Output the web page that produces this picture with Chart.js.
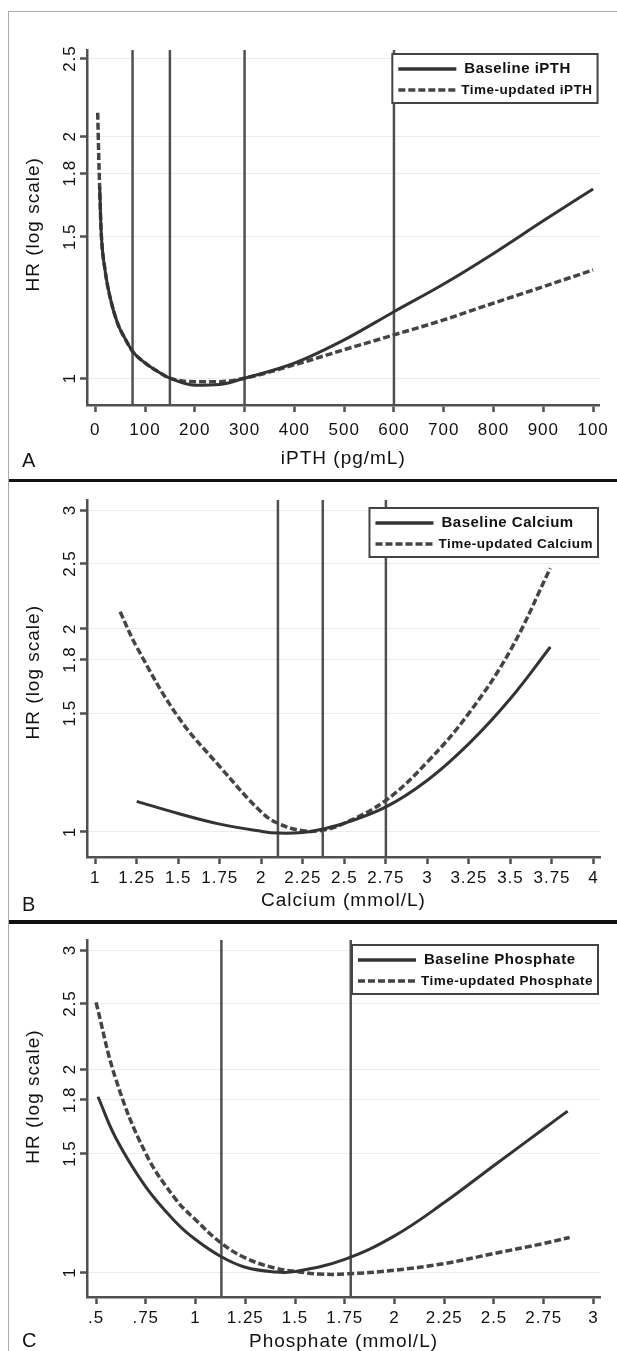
<!DOCTYPE html>
<html>
<head>
<meta charset="utf-8">
<script src="https://cdn.jsdelivr.net/npm/chart.js@4.4.1/dist/chart.umd.min.js"></script>
<style>
body{margin:0;background:#fff;width:617px;height:1351px;overflow:hidden;position:relative;font-family:"Liberation Sans",Arial,sans-serif;}
.frame{position:absolute;left:8px;top:11px;right:-2px;bottom:-2px;border-left:1px solid #aaa;border-top:1px solid #aaa;}
canvas{position:absolute;left:0;}
.sep{position:absolute;left:9px;right:0;height:3px;background:#111;}
.tag{position:absolute;left:22px;font-size:20px;line-height:20px;color:#151515;}
</style>
</head>
<body>
<div class="frame"></div>
<canvas id="chartA" width="617" height="480" style="top:0px"></canvas>
<canvas id="chartB" width="617" height="437" style="top:483px"></canvas>
<canvas id="chartC" width="617" height="440" style="top:924px"></canvas>
<div class="sep" style="top:479px"></div>
<div class="sep" style="top:920px;height:3.5px"></div>
<div class="tag" style="top:450px">A</div>
<div class="tag" style="top:894px">B</div>
<div class="tag" style="top:1330px">C</div>
<script>
// A - iPTH
const iPTHTicks = [0, 100, 200, 300, 400, 500, 600, 700, 800, 900, 1000];
const iPTHTickLabels = ['0', '100', '200', '300', '400', '500', '600', '700', '800', '900', '100'];
const iPTHRefLines = [75, 150, 300, 600];
const iPTHBaseX = [9, 12, 20, 30, 45, 60, 75, 100, 125, 150, 200, 250, 300, 400, 500, 600, 700, 800, 900, 1000];
const iPTHBaseHR = [1.73, 1.52, 1.36, 1.26, 1.17, 1.12, 1.08, 1.045, 1.02, 1.0, 0.98, 0.982, 1.0, 1.044, 1.116, 1.21, 1.31, 1.43, 1.57, 1.72];
const iPTHTimeX = [5, 7, 9, 12, 20, 30, 45, 60, 75, 100, 125, 150, 200, 250, 300, 400, 500, 600, 700, 800, 900, 1000];
const iPTHTimeHR = [2.14, 1.9, 1.72, 1.52, 1.36, 1.26, 1.17, 1.12, 1.08, 1.045, 1.02, 1.0, 0.99, 0.99, 1.0, 1.039, 1.085, 1.132, 1.182, 1.24, 1.30, 1.364];
const hrTicksA = [1, 1.5, 1.8, 2, 2.5];
const hrLabelsA = ['1', '1.5', '1.8', '2', '2.5'];

// B - Calcium
const caTicks = [1, 1.25, 1.5, 1.75, 2, 2.25, 2.5, 2.75, 3, 3.25, 3.5, 3.75, 4];
const caTickLabels = ['1', '1.25', '1.5', '1.75', '2', '2.25', '2.5', '2.75', '3', '3.25', '3.5', '3.75', '4'];
const caRefLines = [2.1, 2.37, 2.75];
const caBaseX = [1.25, 1.5, 1.75, 2.0, 2.1, 2.25, 2.37, 2.5, 2.75, 3.0, 3.25, 3.5, 3.74];
const caBaseHR = [1.11, 1.065, 1.027, 1.002, 0.996, 0.998, 1.01, 1.03, 1.089, 1.193, 1.352, 1.577, 1.88];
const caTimeX = [1.15, 1.25, 1.5, 1.75, 2.0, 2.1, 2.25, 2.37, 2.5, 2.75, 3.0, 3.25, 3.5, 3.74];
const caTimeHR = [2.12, 1.88, 1.48, 1.25, 1.07, 1.03, 1.004, 1.006, 1.03, 1.114, 1.27, 1.50, 1.86, 2.46];

// C - Phosphate
const phTicks = [0.5, 0.75, 1, 1.25, 1.5, 1.75, 2, 2.25, 2.5, 2.75, 3];
const phTickLabels = ['.5', '.75', '1', '1.25', '1.5', '1.75', '2', '2.25', '2.5', '2.75', '3'];
const phRefLines = [1.13, 1.78];
const phBaseX = [0.51, 0.6, 0.75, 0.9, 1.0, 1.13, 1.25, 1.4, 1.5, 1.75, 2.0, 2.25, 2.5, 2.75, 2.87];
const phBaseHR = [1.82, 1.58, 1.339, 1.188, 1.119, 1.055, 1.018, 1.002, 1.003, 1.046, 1.133, 1.269, 1.44, 1.632, 1.733];
const phTimeX = [0.5, 0.6, 0.75, 0.9, 1.0, 1.13, 1.25, 1.4, 1.5, 1.62, 1.75, 2.0, 2.25, 2.5, 2.75, 2.88];
const phTimeHR = [2.51, 1.93, 1.50, 1.284, 1.197, 1.105, 1.051, 1.015, 1.004, 0.995, 0.995, 1.008, 1.031, 1.067, 1.104, 1.127];

const hrTicksBC = [1, 1.5, 1.8, 2, 2.5, 3];
const hrLabelsBC = ['1', '1.5', '1.8', '2', '2.5', '3'];

const FONT = '"Liberation Sans", Arial, sans-serif';
const INK = '#111';
const AXIS = '#505050';
Chart.defaults.font.family = FONT;

// canvas text in the figure is slightly spaced out
const letterSpacing = {
  id: 'letterSpacing',
  beforeUpdate(chart) { chart.ctx.letterSpacing = '1px'; },
  beforeDraw(chart) { chart.ctx.letterSpacing = '1px'; }
};

// framed legend in the top right corner of the plot
const boxLegend = {
  id: 'boxLegend',
  afterDatasetsDraw(chart, args, opts) {
    const ctx = chart.ctx, area = chart.chartArea;
    const items = chart.data.datasets.filter(d => d.label);
    const fonts = ['bold 15px ' + FONT, 'bold 13.5px ' + FONT];
    ctx.save();
    ctx.letterSpacing = '0.5px';
    let maxW = 0;
    items.forEach((d, i) => {
      ctx.font = fonts[i];
      maxW = Math.max(maxW, ctx.measureText(d.label).width);
    });
    const right = area.right - 2;
    const width = 6 + 58 + 5 + maxW + 5;
    const left = right - width;
    const top = area.top + opts.offset;
    ctx.fillStyle = '#fff';
    ctx.fillRect(left, top, width, 49);
    ctx.strokeStyle = '#444';
    ctx.lineWidth = 2;
    ctx.setLineDash([]);
    ctx.strokeRect(left, top, width, 49);
    items.forEach((d, i) => {
      const y = top + 15 + i * 21;
      ctx.beginPath();
      ctx.setLineDash(d.borderDash || []);
      ctx.strokeStyle = d.borderColor;
      ctx.lineWidth = 3.5;
      ctx.moveTo(left + 6, y);
      ctx.lineTo(left + 64, y);
      ctx.stroke();
      ctx.font = fonts[i];
      ctx.fillStyle = INK;
      ctx.textBaseline = 'middle';
      ctx.textAlign = 'left';
      ctx.fillText(d.label, left + (i == 0 ? 72 : 69), y);
    });
    ctx.restore();
  }
};

function pts(xs, ys) {
  return xs.map((x, i) => ({x: x, y: ys[i]}));
}

function makePanel(id, p) {
  let curve = p.monotone ? {cubicInterpolationMode: 'monotone'} : {tension: 0.4};
  let datasets = [
    Object.assign({label: p.names[0], data: pts(p.baseX, p.baseHR), borderColor: '#333', borderWidth: 3,
     pointRadius: 0}, curve),
    Object.assign({label: p.names[1], data: pts(p.timeX, p.timeHR), borderColor: '#444', borderWidth: 3.5,
     borderDash: [7, 3], pointRadius: 0}, curve)
  ];
  p.refLines.forEach(v => {
    datasets.push({data: [{x: v, y: p.yRange[0]}, {x: v, y: p.yRange[1]}], borderColor: AXIS,
      borderWidth: 2.5, pointRadius: 0, tension: 0});
  });

  return new Chart(document.getElementById(id), {
    type: 'line',
    data: {datasets: datasets},
    plugins: [letterSpacing, boxLegend],
    options: {
      responsive: false,
      animation: false,
      events: [],
      layout: {padding: {top: p.padTop, right: 17, bottom: 0, left: 0}},
      plugins: {
        legend: {display: false},
        tooltip: {enabled: false},
        boxLegend: {offset: p.legendOffset}
      },
      scales: {
        x: {
          type: 'linear',
          min: p.xRange[0],
          max: p.xRange[1],
          bounds: 'data',
          afterBuildTicks: s => { s.ticks = p.xTicks.map(v => ({value: v})); },
          afterFit: s => { s.height = p.xHeight; },
          ticks: {autoSkip: false, minRotation: 0, maxRotation: 0, padding: p.xTickPad, color: INK,
                  font: {size: 17}, callback: (v, i) => p.xLabels[i]},
          grid: {drawOnChartArea: false, drawTicks: true, tickLength: 7, tickWidth: 2.5, tickColor: AXIS},
          border: {display: true, color: AXIS, width: 2.5},
          title: {display: true, text: p.xTitle, color: INK, font: {size: 19},
                  padding: {top: 0, bottom: p.xTitlePad}}
        },
        y: {
          type: 'logarithmic',
          min: p.yRange[0],
          max: p.yRange[1],
          bounds: 'data',
          afterBuildTicks: s => { s.ticks = p.yTicks.map(v => ({value: v})); },
          afterFit: s => { s.width = 87; },
          ticks: {autoSkip: false, minRotation: 90, maxRotation: 90, crossAlign: 'center', padding: -4,
                  color: INK, font: {size: 17}, callback: (v, i) => p.yLabels[i]},
          grid: {color: '#ececec', lineWidth: 1, drawTicks: true, tickLength: 7, tickWidth: 2.5, tickColor: AXIS},
          border: {display: true, color: AXIS, width: 2.5},
          // leading blanks nudge the centred title up the axis, as in the figure
          title: {display: true, text: p.yTitle, color: INK, font: {size: 19},
                  padding: {top: 22, bottom: 0}}
        }
      }
    }
  });
}

makePanel('chartA', {
  names: ['Baseline iPTH', 'Time-updated iPTH'],
  baseX: iPTHBaseX, baseHR: iPTHBaseHR, timeX: iPTHTimeX, timeHR: iPTHTimeHR,
  refLines: iPTHRefLines, monotone: true,
  xTicks: iPTHTicks, xLabels: iPTHTickLabels, xTitle: 'iPTH (pg/mL)',
  yTicks: hrTicksA, yLabels: hrLabelsA, yTitle: ' HR (log scale)',
  xRange: [-16.5, 1013], yRange: [0.926, 2.562],
  padTop: 50, xHeight: 75, xTickPad: 8, xTitlePad: 10, legendOffset: 4
});

makePanel('chartB', {
  names: ['Baseline Calcium', 'Time-updated Calcium'],
  baseX: caBaseX, baseHR: caBaseHR, timeX: caTimeX, timeHR: caTimeHR,
  refLines: caRefLines, monotone: false,
  xTicks: caTicks, xLabels: caTickLabels, xTitle: 'Calcium (mmol/L)',
  yTicks: hrTicksBC, yLabels: hrLabelsBC, yTitle: '  HR (log scale)',
  xRange: [0.9506, 4.039], yRange: [0.918, 3.105],
  padTop: 17, xHeight: 63, xTickPad: 4, xTitlePad: 7.6, legendOffset: 8
});

makePanel('chartC', {
  names: ['Baseline Phosphate', 'Time-updated Phosphate'],
  baseX: phBaseX, baseHR: phBaseHR, timeX: phTimeX, timeHR: phTimeHR,
  refLines: phRefLines, monotone: false,
  xTicks: phTicks, xLabels: phTickLabels, xTitle: 'Phosphate (mmol/L)',
  yTicks: hrTicksBC, yLabels: hrLabelsBC, yTitle: '       HR (log scale)',
  xRange: [0.4547, 3.0327], yRange: [0.920, 3.104],
  padTop: 16, xHeight: 67, xTickPad: 4, xTitlePad: 10.6, legendOffset: 5
});
</script>
</body>
</html>
